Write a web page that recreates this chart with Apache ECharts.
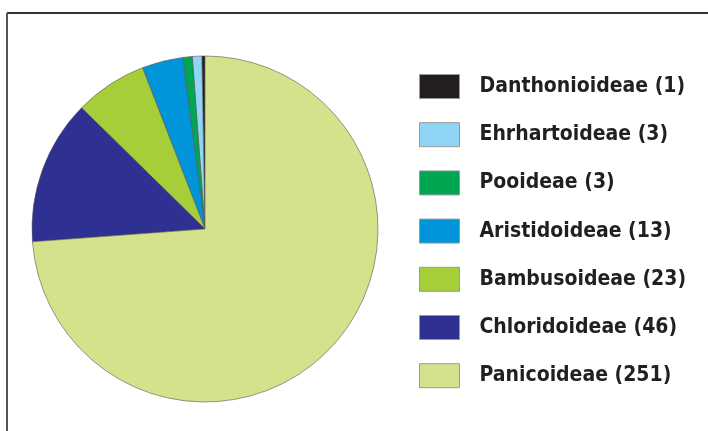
<!DOCTYPE html>
<html>
<head>
<meta charset="utf-8">
<script src="https://cdn.jsdelivr.net/npm/echarts@6/dist/echarts.min.js"></script>
<style>
  html, body { margin: 0; padding: 0; background: #fff; }
  #chart { width: 708px; height: 431px; }
</style>
</head>
<body>
<div id="chart"></div>
<script>
// subfamilies, in legend order (counter-clockwise from 12 o'clock)
const names = ['Danthonioideae', 'Ehrhartoideae', 'Pooideae', 'Aristidoideae', 'Bambusoideae', 'Chloridoideae', 'Panicoideae'];
const counts = [1, 3, 3, 13, 23, 46, 251];
const colors = ['#231f20', '#8fd6f5', '#00a651', '#0095da', '#a6ce39', '#2e3192', '#d4e38b'];

const chart = echarts.init(document.getElementById('chart'));

const option = {
    backgroundColor: '#fff',
    animation: false,
    color: colors,
    graphic: [
        { type: 'line', shape: { x1: 7, y1: 13, x2: 708, y2: 13 }, style: { stroke: '#333', lineWidth: 2 } },
        { type: 'line', shape: { x1: 7, y1: 13, x2: 7, y2: 431 }, style: { stroke: '#555', lineWidth: 2 } }
    ],
    legend: {
        orient: 'vertical',
        left: 419,
        top: 74,
        padding: 0,
        itemWidth: 40,
        itemHeight: 24,
        itemGap: 23.2,
        icon: 'rect',
        itemStyle: { borderColor: '#999', borderWidth: 1 },
        textStyle: {
            fontFamily: 'DejaVu Sans Condensed, DejaVu Sans',
            fontWeight: 'bold',
            fontSize: 21,
            lineHeight: 24,
            color: '#231f20',
            padding: [0, 0, 0, 15]
        },
        formatter: function (name) {
            return name + ' (' + counts[names.indexOf(name)] + ')';
        },
        data: names
    },
    series: [
        {
            type: 'pie',
            center: [205, 229],
            radius: 173,
            startAngle: 90,
            clockwise: false,
            label: { show: false },
            labelLine: { show: false },
            itemStyle: { borderColor: '#555', borderWidth: 0.6 },
            emphasis: { disabled: true },
            data: names.map((n, i) => ({ name: n, value: counts[i] }))
        }
    ]
};

chart.setOption(option);
</script>
</body>
</html>
